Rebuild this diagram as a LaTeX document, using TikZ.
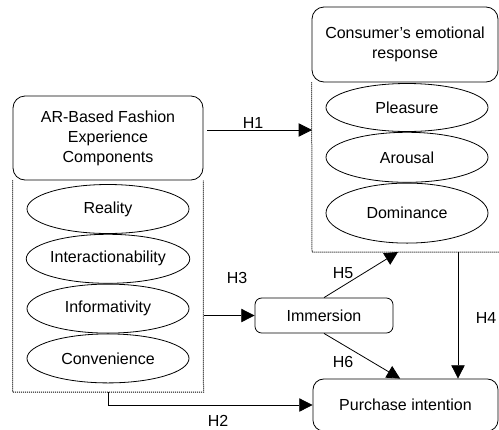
\documentclass[tikz,border=0pt]{standalone}
\usepackage{fontspec}
\setmainfont{Liberation Sans}
\usetikzlibrary{positioning,shapes.geometric,arrows.meta,calc}

\tikzset{
  box/.style={draw, rounded corners=9pt, align=center, inner sep=0pt, fill=white},
  factor/.style={draw, ellipse, minimum width=121.5pt, inner sep=0pt},
  frameline/.style={dash pattern=on 0.75pt off 0.75pt, line width=0.75pt},
  hyp/.style={->, line width=0.6pt},
  hlabel/.style={inner sep=0pt}
}

\begin{document}
\begin{tikzpicture}[x=0.75pt, y=-0.75pt, >={Triangle[length=10pt,width=10pt]},
    line width=0.6pt, font=\fontsize{12}{15}\selectfont]
  \useasboundingbox (0,0) rectangle (499,429);
  \clip (0,0) rectangle (499,429);

  % AR experience components
  \node[box, minimum width=142.5pt, minimum height=63pt] (arbox) at (108,138) {AR-Based Fashion\\Experience\\Components};
  \node[factor, minimum height=36.75pt] (reality) at (108,209) {Reality};
  \node[factor, minimum height=36.75pt, below=0pt of reality] (interact) {Interactionability};
  \node[factor, minimum height=36.75pt, below=0pt of interact] (inform) {Informativity};
  \node[factor, minimum height=36.75pt, below=0pt of inform] (conv) {Convenience};
  \coordinate (lf-sw) at (12.5,392);
  \coordinate (lf-se) at (203.5,392);
  \draw[frameline] (arbox.south west) -- (lf-sw) -- (lf-se) -- (arbox.south east);

  % emotional response
  \node[box, minimum width=139.5pt, minimum height=56.25pt] (cerbox) at (405,44.5) {Consumer\char39s emotional\\response};
  \node[factor, minimum height=36pt] (pleasure) at (407,107.5) {Pleasure};
  \node[factor, minimum height=37.5pt, below=0pt of pleasure] (arousal) {Arousal};
  \node[factor, minimum height=45pt, below=0pt of arousal] (dominance) {Dominance};
  \coordinate (rf-sw) at (312,252);
  \coordinate (rf-se) at (499,252);
  \draw[frameline] (cerbox.south west) -- (rf-sw) -- (rf-se);

  % mediator and outcome
  \node[box, rounded corners=5pt, minimum width=103.5pt, minimum height=26.25pt] (immersion) at (324,315.5) {Immersion};
  \node[box, rounded corners=8pt, minimum width=138.75pt, minimum height=39pt] (purchase) at (405.5,405) {Purchase intention};

  % hypotheses
  \coordinate (h5end) at (398,252);
  \coordinate (h4start) at (458,252);
  \draw[hyp] ([xshift=3pt,yshift=6pt]arbox.east) -- ([yshift=6pt]arbox.east -| rf-sw);
  \draw[hyp] (reality |- lf-sw) |- (purchase.west);
  \draw[hyp] (immersion.west -| lf-se) -- (immersion.west);
  \draw[hyp] (h4start) -- (h4start |- purchase.north);
  \draw[hyp] (immersion.north) -- (h5end);
  \draw[hyp] (immersion.south) -- ([xshift=-4pt]purchase.north);

  \node[hlabel] (lh1) at (253,123) {H1};
  \node[hlabel] (lh2) at (218,421) {H2};
  \node[hlabel] (lh3) at (237,278) {H3};
  \node[hlabel] (lh4) at (486,318) {H4};
  \node[hlabel] (lh5) at (343,273) {H5};
  \node[hlabel] (lh6) at (343,362) {H6};
\end{tikzpicture}
\end{document}
